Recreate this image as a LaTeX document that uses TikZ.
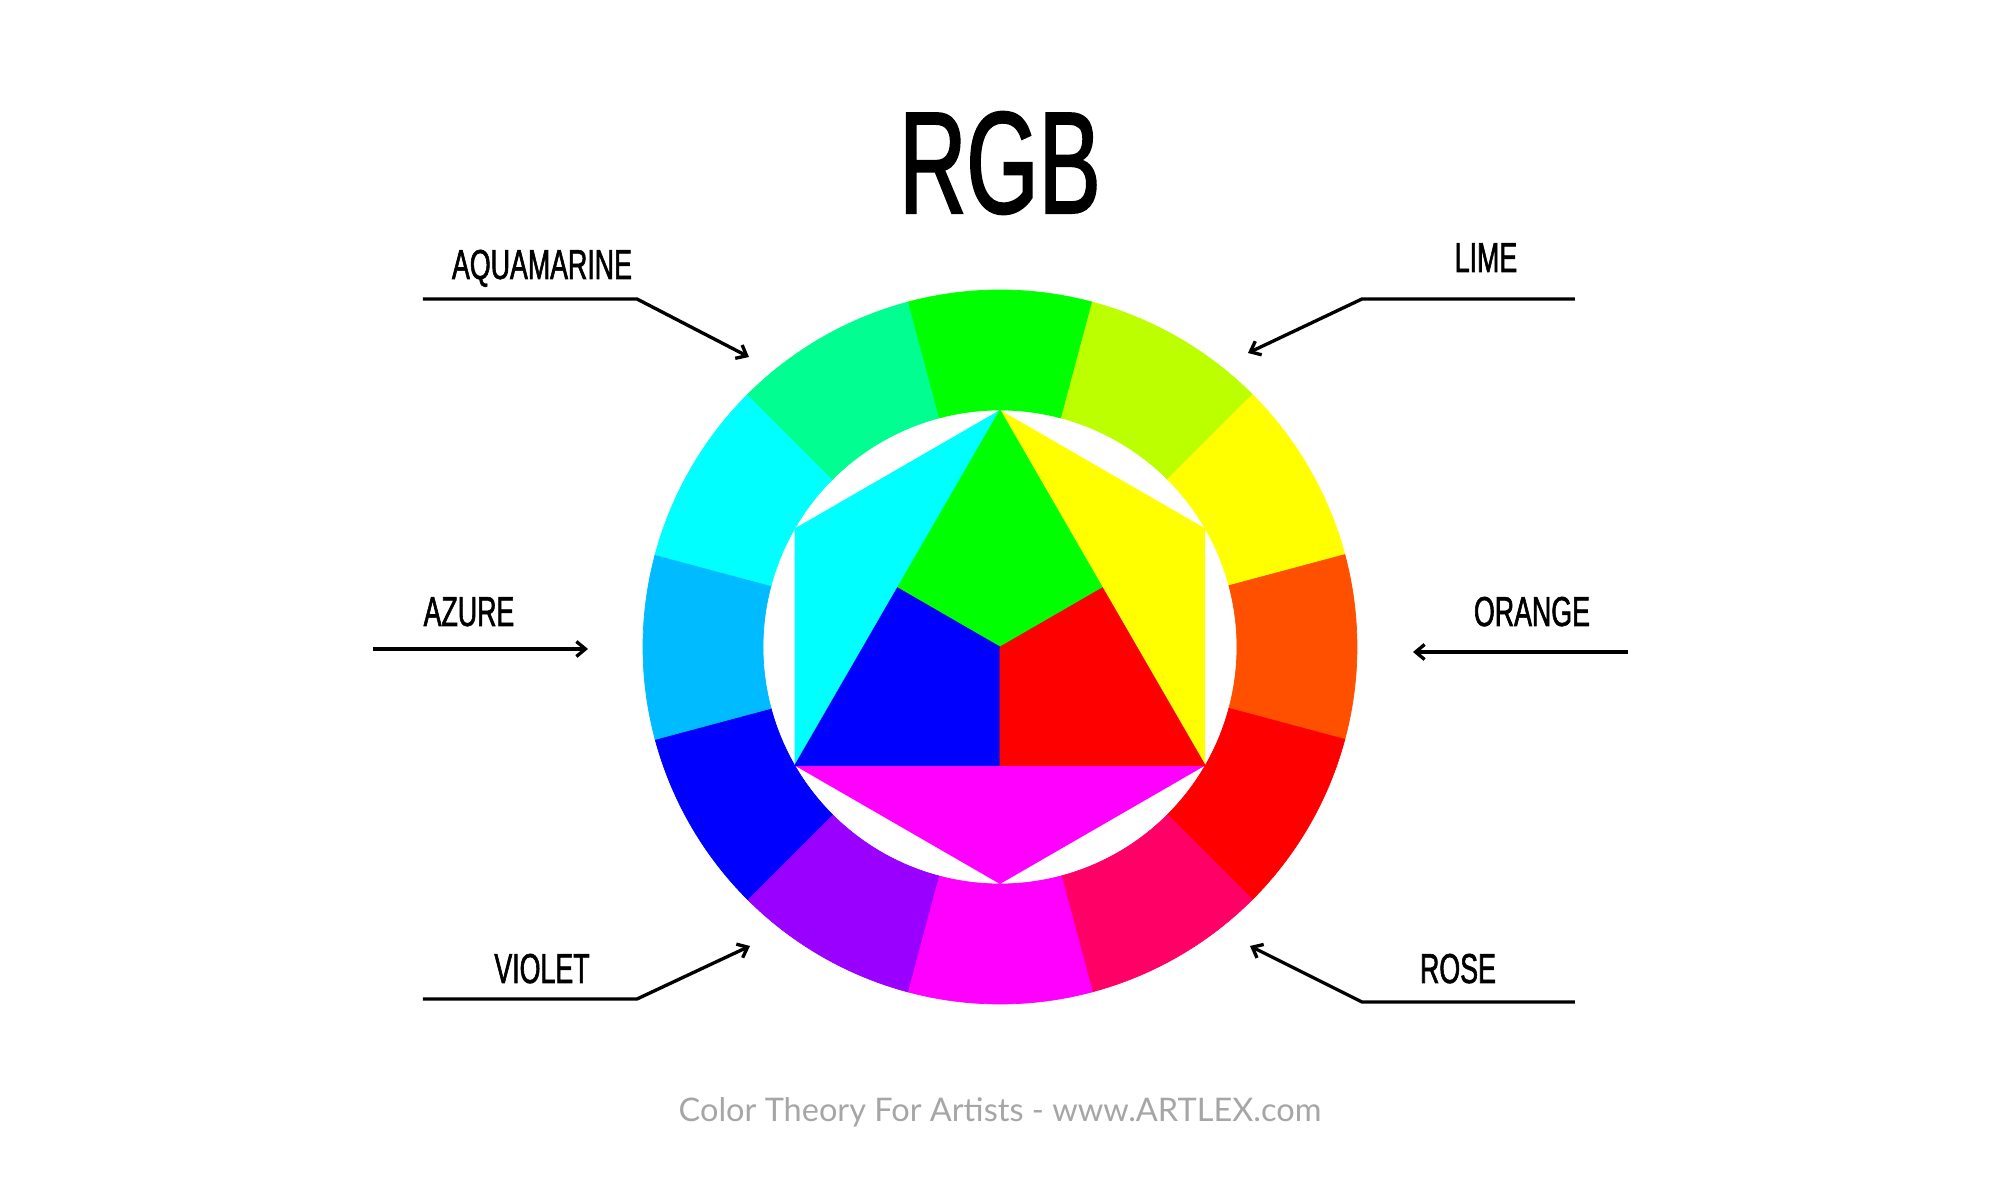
\documentclass[tikz,border=0pt]{standalone}
\usepackage{fontspec}
\usepackage{tikz}
\usetikzlibrary{arrows.meta}
\usepackage{xcolor}

\newfontfamily\condfont[FakeStretch=0.64, FakeBold=1.4]{Liberation Sans}
\newfontfamily\footfont{Lato}

\definecolor{cGreen}{HTML}{00FF00}
\definecolor{cLime}{HTML}{BBFF00}
\definecolor{cYellow}{HTML}{FFFF00}
\definecolor{cOrange}{HTML}{FF5000}
\definecolor{cRed}{HTML}{FF0000}
\definecolor{cRose}{HTML}{FF0066}
\definecolor{cMagenta}{HTML}{FF00FF}
\definecolor{cViolet}{HTML}{9900FF}
\definecolor{cBlue}{HTML}{0000FF}
\definecolor{cAzure}{HTML}{00BBFF}
\definecolor{cCyan}{HTML}{00FFFF}
\definecolor{cAqua}{HTML}{00FF90}
\definecolor{footgray}{HTML}{A6A6A6}

\begin{document}
\begin{tikzpicture}[x=0.1mm, y=0.1mm,
  pointer/.style={-{Straight Barb[length=0.9mm, width=1.5mm]}, line width=0.95pt},
  lbl/.style={anchor=base, inner sep=0pt, font=\condfont\fontsize{11.9}{13}\selectfont}]

  \useasboundingbox (-1000,-553) rectangle (1000,647);

  % Title
  \node[anchor=base, inner sep=0pt, font=\condfont\fontsize{41.3}{45}\selectfont] (title) at (0,434) {RGB};

  % ---- Outer ring: twelve hues ----
  \foreach \ang/\col in {90/cGreen, 60/cLime, 30/cYellow, 0/cOrange, -30/cRed, -60/cRose,
                         -90/cMagenta, -120/cViolet, -150/cBlue, 180/cAzure, 150/cCyan, 120/cAqua}
    \fill[\col, draw=\col, line width=0.2pt] (\ang-15:357) arc[start angle=\ang-15, end angle=\ang+15, radius=357]
      -- (\ang+15:237) arc[start angle=\ang+15, end angle=\ang-15, radius=237] -- cycle;

  % ---- Inner hexagon ----
  \coordinate (top) at (90:237);
  \coordinate (ur) at (30:237);
  \coordinate (lr) at (-30:237);
  \coordinate (bot) at (-90:237);
  \coordinate (ll) at (-150:237);
  \coordinate (ul) at (150:237);
  \coordinate (mid) at (0,0);
  \coordinate (ml) at (-102.6,59.25);
  \coordinate (mr) at (102.6,59.25);
  \coordinate (mb) at (0,-118.5);

  \fill[cCyan] (top) -- (ul) -- (ll) -- cycle;
  \fill[cYellow] (top) -- (ur) -- (lr) -- cycle;
  \fill[cMagenta] (ll) -- (bot) -- (lr) -- cycle;
  \fill[cGreen, draw=cGreen, line width=0.2pt] (top) -- (mr) -- (mid) -- (ml) -- cycle;
  \fill[cBlue, draw=cBlue, line width=0.2pt] (ml) -- (mid) -- (mb) -- (ll) -- cycle;
  \fill[cRed, draw=cRed, line width=0.2pt] (mid) -- (mr) -- (lr) -- (mb) -- cycle;

  % ---- Labels ----
  \node[lbl] (aqua) at (-458,368) {AQUAMARINE};
  \coordinate (aqua-a) at (-577,348);
  \coordinate (aqua-b) at (-363,348);
  \coordinate (aqua-tip) at (-251,290);
  \draw[pointer] (aqua-a) -- (aqua-b) -- (aqua-tip);

  \node[lbl] (lime) at (486,375) {LIME};
  \coordinate (lime-a) at (575,348);
  \coordinate (lime-b) at (362,348);
  \coordinate (lime-tip) at (248,294);
  \draw[pointer] (lime-a) -- (lime-b) -- (lime-tip);

  \node[lbl] (azure) at (-531,21) {AZURE};
  \coordinate (azure-a) at (-627,-2);
  \coordinate (azure-tip) at (-412,-2);
  \draw[pointer] (azure-a) -- (azure-tip);

  \node[lbl] (orange) at (532,21) {ORANGE};
  \coordinate (orange-a) at (628,-5);
  \coordinate (orange-tip) at (413,-5);
  \draw[pointer] (orange-a) -- (orange-tip);

  \node[lbl] (violet) at (-458,-336) {VIOLET};
  \coordinate (violet-a) at (-577,-352);
  \coordinate (violet-b) at (-363,-352);
  \coordinate (violet-tip) at (-250,-299);
  \draw[pointer] (violet-a) -- (violet-b) -- (violet-tip);

  \node[lbl] (rose) at (458,-336) {ROSE};
  \coordinate (rose-a) at (575,-355);
  \coordinate (rose-b) at (362,-355);
  \coordinate (rose-tip) at (250,-299);
  \draw[pointer] (rose-a) -- (rose-b) -- (rose-tip);

  % Footer
  \node[anchor=base, inner sep=0pt, text=footgray, font=\footfont\fontsize{9.25}{11}\selectfont] (credit) at (0,-475)
    {Color Theory For Artists - www.ARTLEX.com};

\end{tikzpicture}
\end{document}
